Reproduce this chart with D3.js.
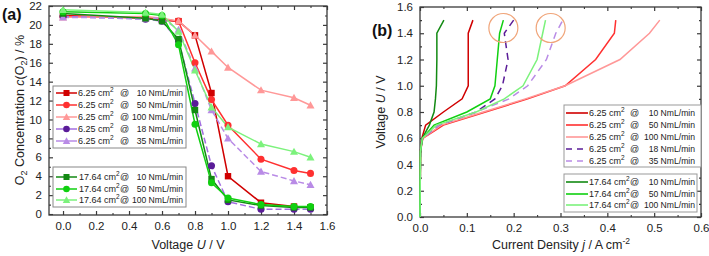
<!DOCTYPE html>
<html><head><meta charset="utf-8">
<script src="https://cdn.jsdelivr.net/npm/d3@7"></script>
<style>
body{margin:0;background:#fff;}
svg{display:block;font-family:"Liberation Sans",Arial,sans-serif;}
</style></head>
<body><svg id="c" width="709" height="256"></svg>
<script>
// ---------- data ----------
const voltageA = [0, 0.5, 0.6, 0.7, 0.8, 0.9, 1.0, 1.2, 1.4, 1.5];
const a_625_10  = [21.0, 20.7, 20.5, 20.4, 18.9, 12.8, 4.0, 1.2, 0.8, 0.7];
const a_625_50  = [20.9, 20.8, 20.6, 20.4, 16.0, 12.1, 9.4, 5.8, 4.6, 4.3];
const a_625_100 = [20.8, 20.9, 20.7, 20.4, 18.9, 17.2, 15.5, 13.1, 12.3, 11.5];
const a_625_18  = [20.9, 20.6, 20.4, 18.3, 11.7, 5.1, 1.3, 0.5, 0.5, 0.5];
const a_625_35  = [20.8, 20.7, 20.7, 19.5, 15.4, 11.0, 8.0, 4.5, 3.5, 3.1];
const a_1764_10 = [21.2, 20.7, 20.4, 18.5, 11.0, 3.7, 1.5, 0.9, 0.7, 0.7];
const a_1764_50 = [21.4, 21.2, 21.0, 17.9, 9.5, 3.3, 1.7, 1.0, 0.8, 0.8];
const a_1764_100= [21.6, 21.3, 21.1, 19.3, 15.2, 11.3, 9.2, 7.4, 6.6, 6.0];

const voltageB = [0, 0.5, 0.6, 0.7, 0.8, 0.9, 1.0, 1.2, 1.4, 1.5];
const b_625_10  = [0, 0.001, 0.004, 0.012, 0.05, 0.09, 0.103, 0.103, 0.103, 0.113];
const b_625_50  = [0, 0.001, 0.006, 0.05, 0.14, 0.23, 0.31, 0.375, 0.415, 0.418];
const b_625_100 = [0, 0.001, 0.006, 0.045, 0.135, 0.225, 0.31, 0.427, 0.49, 0.512];
const b_625_18  = [0, 0.001, 0.005, 0.04, 0.12, 0.16, 0.176, 0.188, 0.18, 0.2];
const b_625_35  = [0, 0.001, 0.005, 0.04, 0.12, 0.19, 0.23, 0.27, 0.29, 0.305];
const b_1764_10 = [0, 0.001, 0.005, 0.02, 0.03, 0.033, 0.035, 0.036, 0.036, 0.051];
const b_1764_50 = [0, 0.001, 0.005, 0.03, 0.1, 0.15, 0.16, 0.165, 0.17, 0.178];
const b_1764_100= [0, 0.001, 0.005, 0.035, 0.12, 0.18, 0.22, 0.25, 0.262, 0.268];

const areas = ["6.25", "6.25", "6.25", "6.25", "6.25", "17.64", "17.64", "17.64"];
const flows = ["10", "50", "100", "18", "35", "10", "50", "100"];
const highlightJ = [0.178, 0.279];
const highlightU = [1.44, 1.44];

const xTicksA = [0, 0.2, 0.4, 0.6, 0.8, 1.0, 1.2, 1.4, 1.6];
const yTicksA = [0, 2, 4, 6, 8, 10, 12, 14, 16, 18, 20, 22];
const xTicksB = [0, 0.1, 0.2, 0.3, 0.4, 0.5, 0.6];
const yTicksB = [0, 0.2, 0.4, 0.6, 0.8, 1.0, 1.2, 1.4, 1.6];

// ---------- styles ----------
const colors = ["#d00000", "#ff3030", "#ff9898", "#5a1c98", "#b98be6", "#138a13", "#10d010", "#7cf27c"];
const lineColorsA = ["#d00000", "#ff3030", "#ff9898", "#a36ee0", "#b98be6", "#138a13", "#10d010", "#7cf27c"];
const markers = ["square", "circle", "triangle", "circle", "triangle", "square", "circle", "triangle"];
const dashesA = [null, null, null, "6,3", "6,3", null, null, null];
const dashesB = [null, null, null, "7,5", "7,5", null, null, null];

const seriesA = [a_625_10, a_625_50, a_625_100, a_625_18, a_625_35, a_1764_10, a_1764_50, a_1764_100];
const seriesB = [b_625_10, b_625_50, b_625_100, b_625_18, b_625_35, b_1764_10, b_1764_50, b_1764_100];

const svg = d3.select("#c");
const axisColor = "#3a3a3a";

function drawFrame(g, x, y, xt, yt, xMinor, yMinor, fmtX, fmtY) {
  const [x0, x1] = x.range(), [y0, y1] = y.range();
  g.append("rect").attr("x", x0).attr("y", y1).attr("width", x1 - x0).attr("height", y0 - y1)
    .attr("fill", "none").attr("stroke", axisColor).attr("stroke-width", 1.3);
  const ax = [
    d3.axisBottom(x).tickValues(xt).tickSizeInner(-4).tickSizeOuter(0).tickFormat(fmtX).tickPadding(7),
    d3.axisTop(x).tickValues(xt).tickSizeInner(-4).tickSizeOuter(0).tickFormat(""),
    d3.axisLeft(y).tickValues(yt).tickSizeInner(-4).tickSizeOuter(0).tickFormat(fmtY).tickPadding(7),
    d3.axisRight(y).tickValues(yt).tickSizeInner(-4).tickSizeOuter(0).tickFormat("")
  ];
  const tr = [`translate(0,${y0})`, `translate(0,${y1})`, `translate(${x0},0)`, `translate(${x1},0)`];
  ax.forEach((a, i) => {
    const gg = g.append("g").attr("transform", tr[i]).call(a);
    gg.select(".domain").remove();
    gg.selectAll("line").attr("stroke", axisColor).attr("stroke-width", 1.2);
    gg.selectAll("text").attr("font-size", 11.5).attr("fill", "#222").attr("font-family", "Liberation Sans, Arial, sans-serif");
  });
  const mx = [d3.axisBottom(x).tickValues(xMinor).tickSize(-2).tickFormat(""),
              d3.axisTop(x).tickValues(xMinor).tickSize(-2).tickFormat(""),
              d3.axisLeft(y).tickValues(yMinor).tickSize(-2).tickFormat(""),
              d3.axisRight(y).tickValues(yMinor).tickSize(-2).tickFormat("")];
  mx.forEach((a, i) => {
    const gg = g.append("g").attr("transform", tr[i]).call(a);
    gg.select(".domain").remove();
    gg.selectAll("line").attr("stroke", axisColor).attr("stroke-width", 1.1);
  });
}

function marker(g, type, cx, cy, color, s) {
  if (type === "square") {
    g.append("rect").attr("x", cx - s).attr("y", cy - s).attr("width", 2 * s).attr("height", 2 * s).attr("fill", color);
  } else if (type === "circle") {
    g.append("circle").attr("cx", cx).attr("cy", cy).attr("r", s * 1.1).attr("fill", color);
  } else {
    const h = s * 1.25;
    g.append("path").attr("d", `M${cx},${cy - h}L${cx + h},${cy + h * 0.8}L${cx - h},${cy + h * 0.8}Z`).attr("fill", color);
  }
}

function legendText(g, x, y, area, flow, atX, endX) {
  const fs = 9;
  const t = g.append("text").attr("x", x).attr("y", y).attr("font-size", fs).attr("fill", "#222");
  t.append("tspan").text(area + " cm");
  t.append("tspan").attr("dy", -4).attr("font-size", 6.5).text("2");
  g.append("text").attr("x", atX).attr("y", y).attr("font-size", fs).attr("fill", "#222").text("@");
  g.append("text").attr("x", endX).attr("y", y).attr("text-anchor", "end").attr("font-size", 8.6).attr("fill", "#222").text(flow + " NmL/min");
}

// ---------- Panel (a) ----------
const xA = d3.scaleLinear().domain([-0.085, 1.6]).range([49, 327]);
const yA = d3.scaleLinear().domain([-0.1, 22]).range([215, 6]);
const gA = svg.append("g");
drawFrame(gA, xA, yA, xTicksA, yTicksA,
  d3.range(0, 1.61, 0.1).map(v => +v.toFixed(2)).filter(v => !xTicksA.some(t => Math.abs(t - v) < 1e-6)),
  d3.range(1, 22, 2), d3.format(".1f"), d3.format("d"));

const lineA = d3.line().x((d, i) => xA(voltageA[i])).y(d => yA(d));
const plotA = gA.append("g");
seriesA.forEach((s, k) => {
  plotA.append("path").attr("d", lineA(s)).attr("fill", "none").attr("stroke", lineColorsA[k])
    .attr("stroke-width", 1.5).attr("stroke-dasharray", dashesA[k]);
});
seriesA.forEach((s, k) => {
  s.forEach((v, i) => marker(plotA, markers[k], xA(voltageA[i]), yA(v), colors[k], 3.2));
});

// legend (a)
const legA = gA.append("g");
legA.append("rect").attr("x", 53).attr("y", 86).attr("width", 133).attr("height", 62)
  .attr("fill", "#fff").attr("stroke", "#888").attr("stroke-width", 1);
legA.append("rect").attr("x", 53).attr("y", 167).attr("width", 133).attr("height", 40)
  .attr("fill", "#fff").attr("stroke", "#888").attr("stroke-width", 1);
const legYA = [93, 105, 117, 129, 141, 177, 189, 200];
legYA.forEach((ly, k) => {
  legA.append("line").attr("x1", 56).attr("x2", 77).attr("y1", ly).attr("y2", ly)
    .attr("stroke", lineColorsA[k]).attr("stroke-width", 1.5);
  marker(legA, markers[k], 66.5, ly, colors[k], 3);
  const tx = k < 5 ? 78 : 79;
  legendText(legA, tx, ly + 3.2, areas[k], flows[k], 120, 183);
});

gA.append("text").attr("x", 2).attr("y", 20).attr("font-size", 16).attr("font-weight", "bold").attr("fill", "#111").text("(a)");
const tyA = gA.append("text").attr("transform", "translate(24,110) rotate(-90)").attr("text-anchor", "middle")
  .attr("font-size", 12.5).attr("fill", "#222");
tyA.append("tspan").text("O");
tyA.append("tspan").attr("dy", 3).attr("font-size", 9).text("2");
tyA.append("tspan").attr("dy", -3).text(" Concentration ");
tyA.append("tspan").attr("font-style", "italic").text("c");
tyA.append("tspan").text("(O");
tyA.append("tspan").attr("dy", 3).attr("font-size", 9).text("2");
tyA.append("tspan").attr("dy", -3).text(") / %");
const txA = gA.append("text").attr("x", 188).attr("y", 249).attr("text-anchor", "middle").attr("font-size", 12.5).attr("fill", "#222");
txA.append("tspan").text("Voltage ");
txA.append("tspan").attr("font-style", "italic").text("U");
txA.append("tspan").text(" / V");

// ---------- Panel (b) ----------
const xB = d3.scaleLinear().domain([0, 0.6]).range([420, 701]);
const yB = d3.scaleLinear().domain([0, 1.6]).range([217, 7]);
const gB = svg.append("g");
drawFrame(gB, xB, yB, xTicksB, yTicksB,
  d3.range(0.05, 0.6, 0.1).map(v => +v.toFixed(2)),
  d3.range(0.1, 1.6, 0.2).map(v => +v.toFixed(2)), d3.format(".1f"), d3.format(".1f"));

const lineB = d3.line().x(d => xB(d)).y((d, i) => yB(voltageB[i]));
const plotB = gB.append("g");
seriesB.forEach((s, k) => {
  plotB.append("path").attr("d", lineB(s)).attr("fill", "none").attr("stroke", colors[k])
    .attr("stroke-width", 1.5).attr("stroke-dasharray", dashesB[k]);
});
highlightJ.forEach((j, i) => {
  plotB.append("circle").attr("cx", xB(j)).attr("cy", yB(highlightU[i])).attr("r", 14.5)
    .attr("fill", "none").attr("stroke", "#f0a57a").attr("stroke-width", 1.2);
});

const legB = gB.append("g");
legB.append("rect").attr("x", 564).attr("y", 105).attr("width", 137).attr("height", 62)
  .attr("fill", "#fff").attr("stroke", "#999").attr("stroke-width", 1);
legB.append("rect").attr("x", 564).attr("y", 174).attr("width", 133).attr("height", 38)
  .attr("fill", "#fff").attr("stroke", "#999").attr("stroke-width", 1);
const legYB = [113, 125, 137, 149, 161, 182, 194, 205];
legYB.forEach((ly, k) => {
  legB.append("line").attr("x1", 566).attr("x2", 588).attr("y1", ly).attr("y2", ly)
    .attr("stroke", colors[k]).attr("stroke-width", 1.6).attr("stroke-dasharray", k === 3 || k === 4 ? "6,5" : null);
  legendText(legB, 589, ly + 3.2, areas[k], flows[k], 630, 695);
});

gB.append("text").attr("x", 372).attr("y", 36).attr("font-size", 16).attr("font-weight", "bold").attr("fill", "#111").text("(b)");
const tyB = gB.append("text").attr("transform", "translate(385,112) rotate(-90)").attr("text-anchor", "middle")
  .attr("font-size", 12.5).attr("fill", "#222");
tyB.append("tspan").text("Voltage ");
tyB.append("tspan").attr("font-style", "italic").text("U");
tyB.append("tspan").text(" / V");
const txB = gB.append("text").attr("x", 561).attr("y", 249).attr("text-anchor", "middle").attr("font-size", 12.5).attr("fill", "#222");
txB.append("tspan").text("Current Density ");
txB.append("tspan").attr("font-style", "italic").text("j");
txB.append("tspan").text(" / A cm");
txB.append("tspan").attr("dy", -5).attr("font-size", 8.5).text("-2");
</script>
</body></html>
